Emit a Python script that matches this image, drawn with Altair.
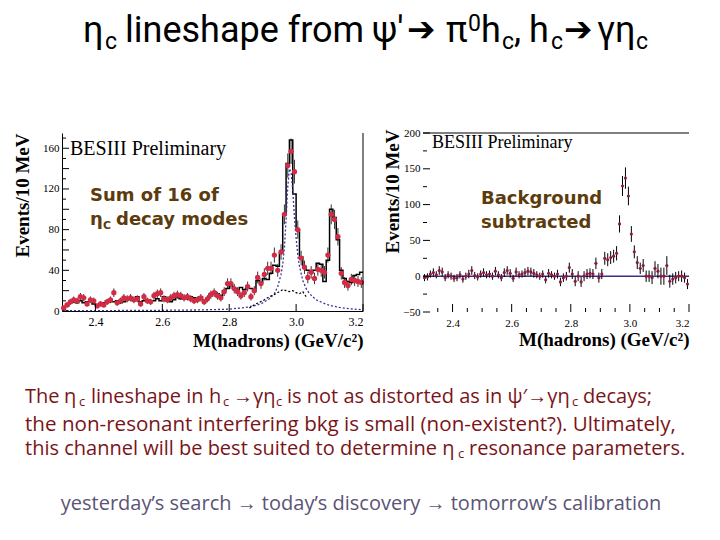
import altair as alt
import numpy as np
import pandas as pd

# ---------------- data ----------------
bin_low = np.round(2.30 + 0.01 * np.arange(90), 3)   # 10 MeV bins 2.30 - 3.20 GeV/c^2
bin_mid = np.round(bin_low + 0.005, 4)

# left panel: sum of 16 eta_c decay modes (histogram)
hist_counts = [2, 5, 8, 9, 8, 10, 8, 9, 10, 7,
               6, 6, 8, 10, 9, 9, 10, 8, 9, 11,
               12, 10, 14, 9, 10, 11, 9, 10, 12, 10,
               14, 10, 9, 11, 14, 12, 14, 12, 14, 13,
               12, 14, 10, 12, 17, 19, 17, 15, 20, 22,
               25, 22, 20, 23, 21, 24, 22, 20, 30, 28,
               32, 31, 37, 45, 44, 57, 95, 145, 168, 115,
               80, 53, 43, 40, 38, 40, 47, 46, 29, 50,
               100, 92, 70, 40, 32, 29, 28, 35, 36, 38]
# left panel: red data points
red_counts = [3, 6, 9, 11, 10, 14, 13, 7, 11, 10,
              5, 7, 6, 9, 11, 18, 8, 10, 13, 12,
              13, 11, 12, 7, 14, 10, 9, 15, 17, 18,
              12, 11, 13, 15, 16, 15, 13, 14, 12, 10,
              11, 13, 9, 12, 16, 18, 15, 13, 19, 27,
              27, 22, 19, 15, 18, 24, 14, 20, 33, 27,
              36, 42, 42, 55, 40, 58, 95, 143, 157, 137,
              80, 52, 43, 33, 38, 32, 41, 40, 38, 55,
              95, 90, 73, 37, 28, 25, 31, 30, 29, 28]
# left panel: signal line shape (blue dotted)
sig_mass = [2.30, 2.40, 2.50, 2.60, 2.70, 2.75, 2.80, 2.85, 2.88, 2.90, 2.92, 2.935,
            2.945, 2.955, 2.96, 2.965, 2.97, 2.975, 2.98, 2.985, 2.99, 2.995, 3.00,
            3.005, 3.01, 3.02, 3.03, 3.04, 3.06, 3.08, 3.10, 3.13, 3.16, 3.20]
sig_counts = [0.3, 0.4, 0.5, 0.7, 1.0, 1.3, 1.8, 3.5, 5.5, 8, 12, 17,
              24, 36, 46, 62, 90, 122, 140, 136, 118, 92, 72,
              55, 44, 30, 22, 17, 11, 8, 5.5, 3.5, 2.2, 1.2]
# left panel: background (black dotted)
bkg_mass = [2.86, 2.88, 2.90, 2.92, 2.94, 2.95, 2.96, 2.97, 2.98, 2.99, 3.00, 3.01, 3.02, 3.03]
bkg_counts = [3, 7, 10, 14, 17, 19, 21, 20, 19, 20, 18, 17, 19, 14]

# right panel: background subtracted
sub_counts = [-2, -1, 3, 5, 2, 8, 6, -2, 2, 0,
              -3, -2, 2, -4, 0, 3, 8, 1, -1, 3,
              5, 2, 3, 0, 7, 2, -2, 5, 8, 4,
              -3, 6, 2, 3, 5, 7, 6, 4, 2, 0,
              3, -5, 4, 2, 0, 3, -8, -2, 0, 12,
              3, -7, 0, -8, 0, 3, 4, 3, 18, -2,
              3, 25, 23, 26, 28, 32, 73, 126, 137, 112,
              59, 34, 19, 11, 15, 0, 0, -2, 11, 7,
              0, 0, 15, -7, -4, -2, 0, 0, -2, -11]
sub_errors = [5, 5, 5, 6, 5, 6, 6, 5, 5, 5,
              5, 5, 5, 5, 5, 6, 6, 5, 5, 5,
              6, 5, 5, 5, 6, 5, 5, 6, 6, 6,
              5, 6, 5, 5, 6, 6, 6, 6, 5, 5,
              5, 5, 6, 5, 5, 6, 6, 6, 6, 7,
              7, 7, 7, 7, 7, 7, 7, 7, 8, 7,
              7, 9, 9, 9, 9, 10, 12, 14, 15, 13,
              11, 9, 9, 8, 9, 8, 8, 9, 10, 10,
              12, 12, 13, 9, 8, 8, 7, 8, 7, 7]

left_xticks = [2.4, 2.6, 2.8, 3.0, 3.2]
left_yticks = [0, 20, 40, 60, 80, 100, 120, 140, 160]
left_yminor = [10, 30, 50, 70, 90, 110, 130, 150, 170]
right_xticks = [2.4, 2.6, 2.8, 3.0, 3.2]
right_xminor = [2.35, 2.45, 2.5, 2.55, 2.65, 2.7, 2.75, 2.85, 2.9, 2.95, 3.05, 3.1, 3.15]
right_yticks = [-50, 0, 50, 100, 150, 200]
right_yminor = [-25, 25, 75, 125, 175]

# ---------------- helpers ----------------
SERIF = "Liberation Serif"
SANS = "Open Sans"
TFONT = "Roboto"
W1, H1 = 301, 178     # left plot area, page origin (62,133)
W2, H2 = 266, 179     # right plot area, page origin (423,133)
OX1, OY1 = 62, 133


def one():
    return alt.Chart(alt.Data(values=[{"t": 0}]))


def seg(x, y, s, size, color="black", font=SANS, weight="normal", align="left", baseline="alphabetic"):
    return one().mark_text(
        align=align, baseline=baseline, font=font, fontSize=size, fontWeight=weight, color=color
    ).encode(x=alt.value(x), y=alt.value(y), text=alt.value(s))


def pseg(px, py, s, size, **kw):   # page coordinates -> left plot coordinates
    return seg(px - OX1, py - OY1, s, size, **kw)


# ---------------- left panel ----------------
df_hist = pd.DataFrame({"m": list(bin_low) + [3.20], "n": hist_counts + [hist_counts[-1]]})
df_red = pd.DataFrame({"m": bin_mid, "n": red_counts})
df_sig = pd.DataFrame({"m": sig_mass, "n": sig_counts})
df_bkg = pd.DataFrame({"m": bkg_mass, "n": bkg_counts})

xs1 = alt.Scale(domain=[2.3, 3.2], nice=False, zero=False)
ys1 = alt.Scale(domain=[0, 175], nice=False)

hist = alt.Chart(df_hist).mark_line(interpolate="step-after", color="black", strokeWidth=1.5).encode(
    x=alt.X("m:Q", scale=xs1, axis=alt.Axis(
        values=left_xticks, format=".1f", grid=False, ticks=False, domain=True, domainColor="black",
        labelFont=SERIF, labelFontSize=12, labelColor="black", labelPadding=5, labelOverlap=False,
        title="M(hadrons) (GeV/c²)", titleFont=SERIF, titleFontSize=19, titleFontWeight="bold",
        titleColor="black", titleAlign="right", titleBaseline="middle", titleX=W1, titleY=29)),
    y=alt.Y("n:Q", scale=ys1, axis=alt.Axis(
        values=left_yticks, grid=False, ticks=False, domain=True, domainColor="black",
        labelFont=SERIF, labelFontSize=11, labelColor="black", labelPadding=3, labelOverlap=False,
        title="Events/10 MeV", titleFont=SERIF, titleFontSize=19, titleFontWeight="bold",
        titleColor="black", titleAlign="right", titleBaseline="middle", titleAngle=-90,
        titleX=-40, titleY=0)),
)
red_err = alt.Chart(df_red).transform_calculate(
    lo="datum.n - sqrt(datum.n)", hi="datum.n + sqrt(datum.n)"
).mark_rule(color="black", strokeWidth=0.8).encode(x="m:Q", y="lo:Q", y2="hi:Q")
red_pts = alt.Chart(df_red).mark_circle(color="#d42a44", size=28, opacity=1).encode(x="m:Q", y="n:Q")
sig = alt.Chart(df_sig).mark_line(color="#3a33a0", strokeDash=[2, 2], strokeWidth=1.3).encode(x="m:Q", y="n:Q")
bkg = alt.Chart(df_bkg).mark_line(color="black", strokeDash=[2, 2], strokeWidth=1.2).encode(x="m:Q", y="n:Q")

lyt = alt.Chart(pd.DataFrame({"n": left_yticks})).mark_rule(color="black").encode(
    y="n:Q", x=alt.value(0), x2=alt.value(7))
lym = alt.Chart(pd.DataFrame({"n": left_yminor})).mark_rule(color="black").encode(
    y="n:Q", x=alt.value(0), x2=alt.value(4))
lxt = alt.Chart(pd.DataFrame({"m": left_xticks})).mark_rule(color="black").encode(
    x="m:Q", y=alt.value(H1), y2=alt.value(H1 - 7))
right_border = one().mark_rule(color="black", strokeWidth=1).encode(
    x=alt.value(W1), y=alt.value(0), y2=alt.value(H1))
# white corner markers pinning the page's top-left corner (8,8) and the lower page edge
anchor = one().mark_rule(color="white", strokeWidth=1).encode(
    x=alt.value(-53.5), x2=alt.value(-52), y=alt.value(-124.5), y2=alt.value(-124.5))
anchor_low = one().mark_rule(color="white", strokeWidth=1).encode(
    x=alt.value(-53.5), x2=alt.value(-52), y=alt.value(396), y2=alt.value(396))

BROWN = "#5c3b0c"
left_texts = [
    seg(8, 22, "BESIII Preliminary", 20, font=SERIF),
    seg(28, 68, "Sum of 16 of", 18, color=BROWN, font="DejaVu Sans", weight="bold"),
    seg(28, 92, "η", 18, color=BROWN, font="DejaVu Sans", weight="bold"),
    seg(41, 96, "C", 11, color=BROWN, font="DejaVu Sans", weight="bold"),
    seg(54, 92, "decay modes", 18, color=BROWN, font="DejaVu Sans", weight="bold"),
]

# slide title (page coordinates)
TM, TS = 36, 23
title_segs = [
    pseg(83, 42, "η", TM, font=TFONT), pseg(105, 49, "c", TS, font=TFONT),
    pseg(125, 42, "lineshape from", TM, font=TFONT),
    pseg(372, 42, "ψ′", TM, font=TFONT), pseg(407, 41, "➔", 34, font="DejaVu Sans"),
    pseg(446, 42, "π", TM, font=TFONT), pseg(468, 31, "0", TS, font=TFONT),
    pseg(481, 42, "h", TM, font=TFONT), pseg(502, 49, "c", TS, font=TFONT),
    pseg(514, 42, ",", TM, font=TFONT), pseg(529, 42, "h", TM, font=TFONT),
    pseg(551, 49, "c", TS, font=TFONT),
    pseg(564, 41, "➔", 34, font="DejaVu Sans"), pseg(597, 42, "γη", TM, font=TFONT),
    pseg(636, 49, "c", TS, font=TFONT),
]

# bottom text (page coordinates)
RED = "#7a1418"
GREY = "#5a5476"
BS, BSUB = 20, 13
L1, L1S = 403, 406
bottom_segs = [
    pseg(25, L1, "The", BS, color=RED), pseg(64, L1, "η", BS, color=RED),
    pseg(79, L1S, "c", BSUB, color=RED), pseg(91, L1, "lineshape in", BS, color=RED),
    pseg(209, L1, "h", BS, color=RED), pseg(223, L1S, "c", BSUB, color=RED),
    pseg(233, L1, "→γη", BS, color=RED), pseg(276, L1S, "c", BSUB, color=RED),
    pseg(287, L1, "is not as distorted as in ψ′→γη", BS, color=RED),
    pseg(572, L1S, "c", BSUB, color=RED), pseg(583, L1, "decays;", BS, color=RED),
    pseg(25, 431, "the non-resonant interfering bkg is small (non-existent?).  Ultimately,", 20.6, color=RED),
    pseg(25, 455, "this channel will be best suited to determine η", BS, color=RED),
    pseg(458, 458, "c", BSUB, color=RED), pseg(469, 455, "resonance parameters.", BS, color=RED),
    pseg(361, 510, "yesterday’s search → today’s discovery → tomorrow’s calibration", BS,
         color=GREY, align="center"),
]

left = alt.layer(hist, sig, bkg, red_err, red_pts, lyt, lym, lxt, right_border, anchor, anchor_low,
                 *left_texts, *title_segs, *bottom_segs).properties(width=W1, height=H1)

# ---------------- right panel ----------------
df_sub = pd.DataFrame({"m": bin_mid, "n": sub_counts, "e": sub_errors})
xs2 = alt.Scale(domain=[2.3, 3.2], nice=False, zero=False)
ys2 = alt.Scale(domain=[-50, 200], nice=False, zero=False)

x_axis2 = alt.Axis(
    values=right_xticks, format=".1f", grid=False, ticks=False, domain=False,
    labelFont=SERIF, labelFontSize=11, labelColor="black", labelPadding=5, labelOverlap=False,
    title="M(hadrons) (GeV/c²)", titleFont=SERIF, titleFontSize=19, titleFontWeight="bold",
    titleColor="black", titleAlign="right", titleBaseline="middle", titleX=W2, titleY=27)
y_axis2 = alt.Axis(
    values=right_yticks, grid=False, ticks=False, domain=False,
    labelFont=SERIF, labelFontSize=11, labelColor="black", labelPadding=3, labelOverlap=False,
    title="Events/10 MeV", titleFont=SERIF, titleFontSize=19, titleFontWeight="bold",
    titleColor="black", titleAlign="right", titleBaseline="middle", titleAngle=-90,
    titleX=-31, titleY=-4)

zero_line = alt.Chart(pd.DataFrame({"n": [0]})).mark_rule(color="#3f2d86", strokeWidth=1.5).encode(
    y=alt.Y("n:Q", scale=ys2, axis=y_axis2), x=alt.value(0), x2=alt.value(W2))
sub_err = alt.Chart(df_sub).transform_calculate(
    lo="datum.n - datum.e", hi="datum.n + datum.e"
).mark_rule(color="black", strokeWidth=1).encode(
    x=alt.X("m:Q", scale=xs2, axis=x_axis2), y=alt.Y("lo:Q", axis=y_axis2), y2="hi:Q")
sub_pts = alt.Chart(df_sub).mark_circle(color="#8a1a40", size=10, opacity=1).encode(
    x=alt.X("m:Q", axis=x_axis2), y=alt.Y("n:Q", axis=y_axis2))
top_line = one().mark_rule(color="black", strokeWidth=1.2).encode(
    y=alt.value(0), x=alt.value(0), x2=alt.value(W2))
ryt = alt.Chart(pd.DataFrame({"n": right_yticks})).mark_rule(color="black").encode(
    y=alt.Y("n:Q", axis=y_axis2), x=alt.value(0), x2=alt.value(7))
rym = alt.Chart(pd.DataFrame({"n": right_yminor})).mark_rule(color="black").encode(
    y=alt.Y("n:Q", axis=y_axis2), x=alt.value(0), x2=alt.value(4))
rxt = alt.Chart(pd.DataFrame({"m": right_xticks})).mark_rule(color="black").encode(
    x=alt.X("m:Q", axis=x_axis2), y=alt.value(H2), y2=alt.value(H2 - 8))
rxm = alt.Chart(pd.DataFrame({"m": right_xminor})).mark_rule(color="black").encode(
    x=alt.X("m:Q", axis=x_axis2), y=alt.value(H2), y2=alt.value(H2 - 4))

right_texts = [
    seg(9, 15, "BESIII Preliminary", 18, font=SERIF),
    seg(58, 71, "Background", 18, color=BROWN, font="DejaVu Sans", weight="bold"),
    seg(58, 95, "subtracted", 18, color=BROWN, font="DejaVu Sans", weight="bold"),
]

right = alt.layer(zero_line, sub_err, sub_pts, top_line, ryt, rym, rxt, rxm,
                  *right_texts).properties(width=W2, height=H2)

chart = alt.hconcat(left, right, spacing=60, bounds="flush").properties(
    padding=0, background="white"
).configure_view(stroke=None)

chart.save("out.html", embed_options={"renderer": "svg", "actions": False})
